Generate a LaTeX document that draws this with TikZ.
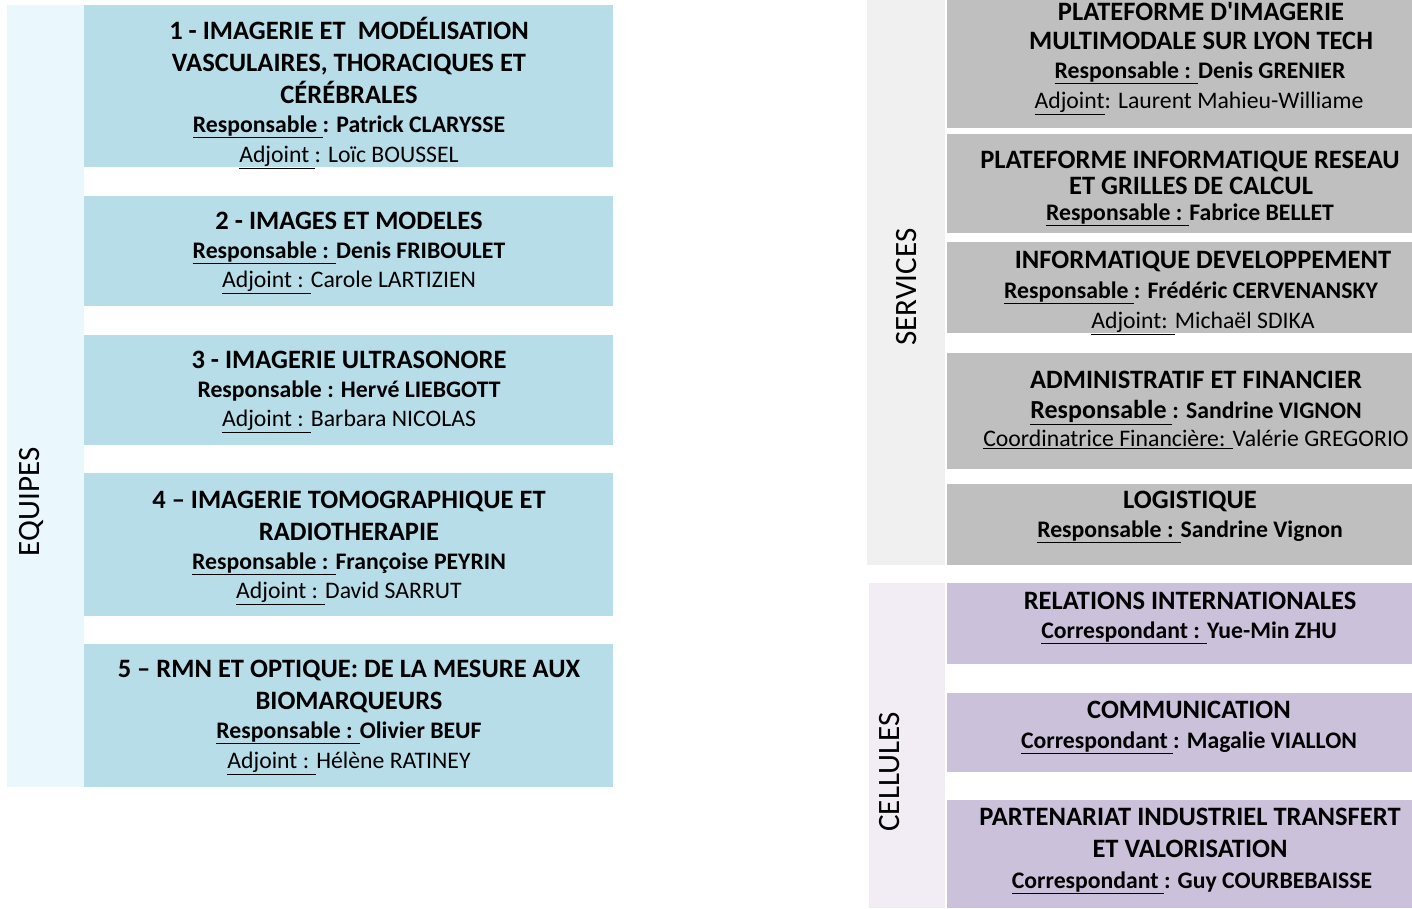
\documentclass[tikz,border=0pt]{standalone}
\usepackage{fontspec}
\setmainfont{Carlito}
\usepackage{tikz}

\definecolor{eqpanel}{HTML}{EAF8FD}
\definecolor{eqbox}{HTML}{B7DDE8}
\definecolor{svpanel}{HTML}{F0F0F0}
\definecolor{svbox}{HTML}{BFBFBF}
\definecolor{clpanel}{HTML}{F2EDF4}
\definecolor{clbox}{HTML}{CCC1DA}

\tikzset{
  ttl/.style={anchor=base, inner sep=0pt, font=\fontsize{19.9}{24}\selectfont\bfseries},
  resp/.style={anchor=base, inner sep=0pt, font=\fontsize{17.8}{21}\selectfont\bfseries},
  adj/.style={anchor=base, inner sep=0pt, font=\fontsize{17.8}{21}\selectfont},
  side/.style={anchor=base, inner sep=0pt, rotate=90, font=\fontsize{23.3}{28}\selectfont}
}

\begin{document}
\begin{tikzpicture}[x=0.75pt,y=-0.75pt]

      \useasboundingbox (0,0) rectangle (1412,908);

      % panels
      \fill[eqpanel] (7,5) rectangle (84,787);
      \fill[svpanel] (867,0) rectangle (945,565);
      \fill[clpanel] (869,583) rectangle (945,908);

      % boxes
      \foreach \ya/\yb in {5/167, 196/306, 335/445, 473/616, 644/787}
        \fill[eqbox] (84,\ya) rectangle (613,\yb);
      \foreach \ya/\yb in {0/128, 134/233, 242/333, 353/469, 484/565}
        \fill[svbox] (947,\ya) rectangle (1412,\yb);
      \foreach \ya/\yb in {583/664, 693/772, 800/908}
        \fill[clbox] (947,\ya) rectangle (1412,\yb);

      \node[side] (equipes) at (39,502) {EQUIPES};
      \node[side] (services) at (916,287) {SERVICES};
      \node[side] (cellules) at (899,772) {CELLULES};

      % equipes
      \node[ttl] (eq1a) at (349,39) {1 - IMAGERIE ET\ \ MODÉLISATION};
      \node[ttl] (eq1b) at (349,71) {VASCULAIRES, THORACIQUES ET};
      \node[ttl] (eq1c) at (349,103) {CÉRÉBRALES};
      \node[resp] (eq1d) at (349,132) {\underline{Responsable }: Patrick CLARYSSE};
      \node[adj] (eq1e) at (349,162) {\underline{Adjoint }: Loïc BOUSSEL};

      \node[ttl] (eq2a) at (349,229) {2 - IMAGES ET MODELES};
      \node[resp] (eq2b) at (349,258) {\underline{Responsable : }Denis FRIBOULET};
      \node[adj] (eq2c) at (349,287) {\underline{Adjoint : }Carole LARTIZIEN};

      \node[ttl] (eq3a) at (349,368) {3 - IMAGERIE ULTRASONORE};
      \node[resp] (eq3b) at (349,397) {Responsable : Hervé LIEBGOTT};
      \node[adj] (eq3c) at (349,426) {\underline{Adjoint : }Barbara NICOLAS};

      \node[ttl] (eq4a) at (349,508) {4 – IMAGERIE TOMOGRAPHIQUE ET};
      \node[ttl] (eq4b) at (349,540) {RADIOTHERAPIE};
      \node[resp] (eq4c) at (349,569) {\underline{Responsable : }Françoise PEYRIN};
      \node[adj] (eq4d) at (349,598) {\underline{Adjoint : }David SARRUT};

      \node[ttl] (eq5a) at (349,677) {5 – RMN ET OPTIQUE: DE LA MESURE AUX};
      \node[ttl] (eq5b) at (349,709) {BIOMARQUEURS};
      \node[resp] (eq5c) at (349,738) {\underline{Responsable : }Olivier BEUF};
      \node[adj] (eq5d) at (349,768) {\underline{Adjoint : }Hélène RATINEY};

      % services
      \node[ttl] (sv1a) at (1201,20) {PLATEFORME D\textquotesingle IMAGERIE};
      \node[ttl] (sv1b) at (1201,49) {MULTIMODALE SUR LYON TECH};
      \node[resp] (sv1c) at (1200,78) {\underline{Responsable : }Denis GRENIER};
      \node[adj] (sv1d) at (1199,108) {\underline{Adjoint}: Laurent Mahieu-Williame};

      \node[ttl] (sv2a) at (1190,168) {PLATEFORME INFORMATIQUE RESEAU};
      \node[ttl] (sv2b) at (1191,194) {ET GRILLES DE CALCUL};
      \node[resp] (sv2c) at (1190,220) {\underline{Responsable : }Fabrice BELLET};

      \node[ttl] (sv3a) at (1203,268) {INFORMATIQUE DEVELOPPEMENT};
      \node[resp] (sv3b) at (1191,298) {\underline{Responsable }: Frédéric CERVENANSKY};
      \node[adj] (sv3c) at (1203,328) {\underline{Adjoint: }Michaël SDIKA};

      \node[ttl] (sv4a) at (1196,388) {ADMINISTRATIF ET FINANCIER};
      \node[resp] (sv4b) at (1196,418) {{\fontsize{19.5}{23}\selectfont\underline{Responsable }}: Sandrine VIGNON};
      \node[adj] (sv4c) at (1196,446) {\underline{Coordinatrice Financière: }Valérie GREGORIO};

      \node[ttl] (sv5a) at (1190,508) {LOGISTIQUE};
      \node[resp] (sv5b) at (1190,537) {\underline{Responsable : }Sandrine Vignon};

      % cellules
      \node[ttl] (cl1a) at (1190,609) {RELATIONS INTERNATIONALES};
      \node[resp] (cl1b) at (1189,638) {\underline{Correspondant : }Yue-Min ZHU};

      \node[ttl] (cl2a) at (1189,718) {COMMUNICATION};
      \node[resp] (cl2b) at (1189,748) {\underline{Correspondant }: Magalie VIALLON};

      \node[ttl] (cl3a) at (1190,825) {PARTENARIAT INDUSTRIEL TRANSFERT};
      \node[ttl] (cl3b) at (1190,857) {ET VALORISATION};
      \node[resp] (cl3c) at (1192,888) {\underline{Correspondant }: Guy COURBEBAISSE};

    \end{tikzpicture}
\end{document}
